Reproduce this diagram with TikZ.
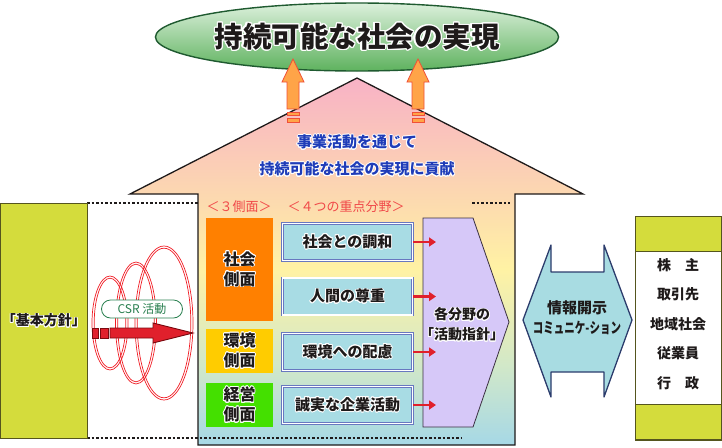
\documentclass[tikz,border=0pt]{standalone}
\usepackage{fontspec}
\setmainfont{Noto Sans CJK JP}
\usepackage{contour}
\contourlength{0.8pt}
\newcommand{\glow}[1]{\contour{white}{#1}}
\usepackage{tikz}
\usetikzlibrary{arrows.meta,positioning,calc,shapes.geometric}
\definecolor{ink}{HTML}{1E1A1A}
\definecolor{goall}{HTML}{DCF0DC}
\definecolor{goalg}{HTML}{5EB25E}
\definecolor{goalline}{HTML}{1F5A30}
\definecolor{hpink}{HTML}{F8B2C6}
\definecolor{hpeach}{HTML}{FCD8B0}
\definecolor{hyel}{HTML}{FFF2A4}
\definecolor{hgreen}{HTML}{D2E8C8}
\definecolor{hblue}{HTML}{A6D8E6}
\definecolor{upor}{HTML}{FFA448}
\definecolor{upline}{HTML}{F05038}
\definecolor{roofblue}{HTML}{1F3CB8}
\definecolor{tagred}{HTML}{F04848}
\definecolor{olive}{HTML}{D4DC3C}
\definecolor{oliveline}{HTML}{55551E}
\definecolor{ringred}{HTML}{F01C24}
\definecolor{csrg}{HTML}{2A8050}
\definecolor{arrred}{HTML}{E0202C}
\definecolor{arrdark}{HTML}{7A0A10}
\definecolor{socor}{HTML}{FF8000}
\definecolor{envyl}{HTML}{FFCC00}
\definecolor{mgtgr}{HTML}{44E000}
\definecolor{focus}{HTML}{A8DCE4}
\definecolor{focusline}{HTML}{6878C0}
\definecolor{lav}{HTML}{D6C8F8}
\definecolor{lavline}{HTML}{3A3040}
\definecolor{infob}{HTML}{A8DCE2}
\definecolor{infoline}{HTML}{2C3C6C}
\pgfdeclareverticalshading{housefill}{100bp}{color(0bp)=(hblue); color(25bp)=(hblue);
  color(36bp)=(hgreen); color(49bp)=(hyel); color(59bp)=(hpeach);
  color(75bp)=(hpink); color(100bp)=(hpink)}
\tikzset{
  goal/.style={ellipse, draw=goalline, line width=1.4pt, top color=goall,
               bottom color=goalg, minimum width=356pt, minimum height=68pt,
               inner sep=0pt, text=ink, font=\fontsize{28.5}{30}\selectfont\bfseries},
  house/.style={shade, shading=housefill, draw=ink, line width=1.3pt},
  uparr/.style={fill=upor, draw=upline, line width=0.8pt},
  rooftxt/.style={align=center, text=roofblue, font=\fontsize{15}{27}\selectfont\bfseries},
  dotln/.style={ink, line width=1.3pt, dash pattern=on 2.5pt off 2pt},
  olivebox/.style={fill=olive, draw=oliveline, line width=0.8pt, inner sep=0pt},
  ring/.style={draw=ringred, line width=0.7pt},
  csrtag/.style={draw=csrg, fill=white, line width=0.8pt, rounded corners=9pt,
                 minimum width=81pt, minimum height=18pt, inner sep=0pt,
                 text=csrg, font=\fontsize{12}{12}\selectfont},
  bigarr/.style={fill=arrred, draw=arrdark, line width=0.9pt},
  tag/.style={text=tagred, font=\fontsize{13}{13}\selectfont},
  aspect/.style={minimum width=67pt, inner sep=0pt, align=center, text=ink,
                 font=\fontsize{16}{20}\selectfont\bfseries},
  focusb/.style={fill=focus, draw=focusline, double=white, double distance=1.1pt,
                 line width=0.6pt, minimum width=130pt, minimum height=37pt,
                 inner sep=0pt, text=ink, font=\fontsize{15}{15}\selectfont\bfseries},
  redar/.style={-{Triangle[length=7pt,width=9pt]}, arrred, line width=2.6pt},
  pentb/.style={fill=lav, draw=lavline, line width=0.8pt},
  infoarr/.style={fill=infob, draw=infoline, line width=1.3pt, line join=round},
  midtxt/.style={align=center, text=ink, font=\fontsize{14}{20}\selectfont\bfseries},
}
\begin{document}
\begin{tikzpicture}[x=1pt, y=-1pt]
  \useasboundingbox (0,0) rectangle (722,447);

  % --- 目標の楕円 ---
  \node[goal] (goal) at (357,37) {\contourlength{1.2pt}\glow{持続可能な社会の実現}};

  % --- 家の形（屋根と本体） ---
  \path[house] (130,194) -- (357,78) -- (583,194) -- (515,194) -- (515,445)
       -- (198,445) -- (198,194) -- cycle;
  \node[rooftxt] (roof) at (357,156) {\glow{事業活動を通じて}\\\glow{持続可能な社会の実現に貢献}};

  % --- 上向きの矢印二本 ---
  \foreach \ux in {293,418}{
    \draw[uparr] (\ux-6,109) -- (\ux-6,82) -- (\ux-11,82) -- (\ux,59)
         -- (\ux+11,82) -- (\ux+6,82) -- (\ux+6,109) -- cycle;
    \draw[uparr] (\ux-6,112) rectangle (\ux+6,115);
    \draw[uparr] (\ux-6,118) rectangle (\ux+6,122);
  }

  % --- 点線 ---
  \draw[dotln] (87,203) -- (198,203);
  \draw[dotln] (472,203) -- (510,203);
  \draw[dotln] (87,438) -- (462,438);

  % --- 基本方針 ---
  \node[olivebox, minimum width=87pt, minimum height=235pt, anchor=north west,
        text=ink, font=\fontsize{14}{14}\selectfont\bfseries] (policy) at (0,203)
       {\glow{「基本方針」}};

  % --- CSR 活動の輪と矢印 ---
  \foreach \cx/\rx/\ry in {110/18/47, 136/20.5/61, 164/29/77}{
    \draw[ring] (\cx,323) ellipse [x radius=\rx, y radius=\ry];
    \draw[ring] (\cx,323) ellipse [x radius=\rx-2.2, y radius=\ry-2.2];
  }
  \node[csrtag] (csr) at (142,309) {CSR 活動};
  \draw[bigarr] (92,328) rectangle (98,338);
  \draw[bigarr] (100,328) rectangle (108,338);
  \draw[bigarr] (110,328) -- (153,328) -- (153,323) -- (193,333) -- (153,343)
       -- (153,338) -- (110,338) -- cycle;

  % --- ３側面と４つの重点分野 ---
  \node[tag] (tag3) at (239,207) {＜３側面＞};
  \node[tag] (tag4) at (346,207) {＜４つの重点分野＞};
  \node[aspect, fill=socor, minimum height=103pt] (soc) at (239.5,269.5)
       {\glow{社会}\\\glow{側面}};
  \node[aspect, fill=envyl, minimum height=44pt] (env) at (239.5,351)
       {\glow{環境}\\\glow{側面}};
  \node[aspect, fill=mgtgr, minimum height=44pt] (mgt) at (239.5,405)
       {\glow{経営}\\\glow{側面}};
  \foreach \i/\y/\t in {1/242/社会との調和, 2/296.5/人間の尊重,
                        3/352/環境への配慮, 4/405/誠実な企業活動}
    \node[focusb] (f\i) at (347.5,\y) {\glow{\t}};

  % --- 活動指針 ---
  \draw[pentb] (423,218) -- (473,218) -- (509,322) -- (473,427) -- (423,427) -- cycle;
  \node[midtxt] (pent) at (462,325) {\glow{各分野の}\\\glow{「活動指針」}};
  \coordinate (pentin) at (436,0);
  \foreach \i in {1,...,4}
    \draw[redar] (f\i.east) -- (f\i.east -| pentin);

  % --- 情報開示の両矢印 ---
  \draw[infoarr] (523,320) -- (551,245) -- (551,272) -- (604,272) -- (604,245)
       -- (632,320) -- (604,397) -- (604,372) -- (551,372) -- (551,397) -- cycle;
  \node[midtxt, font=\fontsize{15}{20}\selectfont\bfseries] (info) at (577,318)
       {情報開示\\\scalebox{0.7}[1]{コミュニケ-ション}};

  % --- ステークホルダー ---
  \node[olivebox, fill=white, minimum width=86pt, minimum height=224pt,
        anchor=north west] (stkbox) at (635,216) {};
  \node[olivebox, minimum width=86pt, minimum height=35pt, anchor=north west]
       (stktop) at (635,216) {};
  \node[olivebox, minimum width=86pt, minimum height=35pt, anchor=south west]
       (stkbot) at (635,440) {};
  \node[align=center, text=ink, font=\fontsize{14}{29.5}\selectfont\bfseries]
       (stk) at (678,324) {株　主\\取引先\\地域社会\\従業員\\行　政};
\end{tikzpicture}
\end{document}
